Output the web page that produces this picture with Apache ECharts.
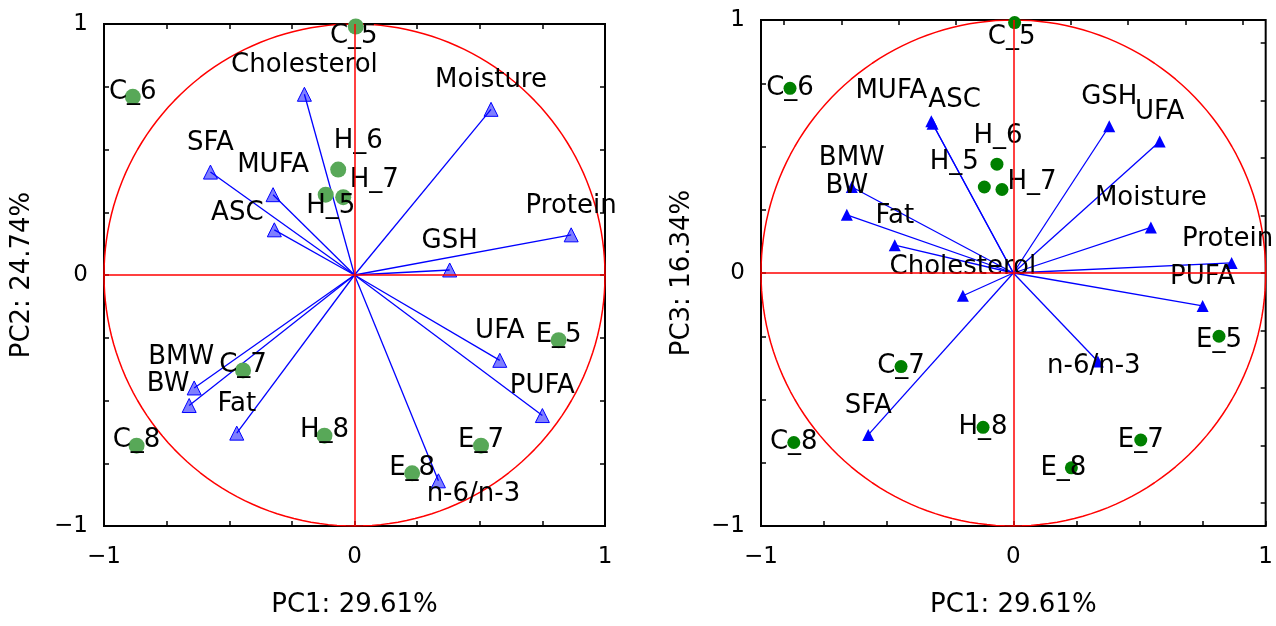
<!DOCTYPE html>
<html>
<head>
<meta charset="utf-8">
<title>PCA correlation circles</title>
<script src="https://cdn.jsdelivr.net/npm/echarts@6/dist/echarts.min.js"></script>
<style>
  html, body { margin: 0; padding: 0; background: #fff; }
  #chart { width: 1276px; height: 626px; }
</style>
</head>
<body>
<div id="chart"></div>
<script>
// loadings of the variables
const varNames = ['Cholesterol', 'SFA', 'MUFA', 'ASC', 'Moisture', 'Protein', 'GSH', 'BMW', 'BW', 'Fat', 'UFA', 'PUFA', 'n-6/n-3']
const varPC1 = [-0.20, -0.575, -0.325, -0.32, 0.545, 0.865, 0.38, -0.64, -0.66, -0.47, 0.58, 0.75, 0.335]
const varPC2 = [0.72, 0.41, 0.32, 0.18, 0.66, 0.16, 0.02, -0.45, -0.52, -0.63, -0.34, -0.56, -0.82]
const varPC3 = [-0.09, -0.64, 0.60, 0.59, 0.18, 0.04, 0.58, 0.34, 0.23, 0.11, 0.52, -0.13, -0.35]

// scores of the samples
const obsNames = ['C_5', 'C_6', 'C_7', 'C_8', 'H_5', 'H_6', 'H_7', 'H_8', 'E_5', 'E_7', 'E_8']
const obsPC1 = [0.005, -0.885, -0.445, -0.87, -0.115, -0.065, -0.045, -0.12, 0.815, 0.505, 0.23]
const obsPC2 = [0.99, 0.71, -0.38, -0.68, 0.32, 0.42, 0.31, -0.64, -0.26, -0.68, -0.79]
const obsPC3 = [0.99, 0.73, -0.37, -0.67, 0.34, 0.43, 0.33, -0.61, -0.25, -0.66, -0.77]

const tickValues = [-1, -0.75, -0.5, -0.25, 0, 0.25, 0.5, 0.75, 1]
const labelValues = [-1, 0, 1]

// label nudges in px, where the original pushed labels apart
const varShiftL = { ASC: [-37, -17], BMW: [-13, -31], BW: [-21, -21], 'n-6/n-3': [35, 13] }
const obsShiftL = { C_5: [-2, 10], H_6: [20, -28], H_5: [5, 12], H_7: [31, -17] }
const varShiftR = { MUFA: [-40, -30], ASC: [22, -23], 'n-6/n-3': [-4, 5], Protein: [-4, -24] }
const obsShiftR = { C_5: [-3, 15], H_6: [1, -28], H_5: [-30, -25], H_7: [30, -7], E_5: [0, 4], E_8: [-8, 0] }

const FONT = 'DejaVu Sans'

// unit correlation circle
const circle = []
for (let a = 0; a <= 360; a += 2) {
  circle.push([Math.cos(a * Math.PI / 180), Math.sin(a * Math.PI / 180)])
}

const fmt = v => v < 0 ? '\u22121' : String(v)

const tickStyle = { inside: true, length: 5, customValues: tickValues, lineStyle: { color: '#000', width: 1.5 } }
const noLine = { show: false, onZero: false }

const xAxes = (g, name, ext) => [
  {
    gridIndex: g, type: 'value', min: -1, max: 1, position: 'bottom',
    name: name, nameLocation: 'middle', nameGap: 66,
    nameTextStyle: { fontFamily: FONT, fontSize: 26, color: '#000' },
    axisLine: noLine, splitLine: { show: false },
    axisTick: tickStyle,
    axisLabel: { customValues: labelValues, formatter: fmt, fontFamily: FONT, fontSize: 23, color: '#000', margin: 20 }
  },
  {
    gridIndex: g, type: 'value', min: -ext, max: ext, position: 'top',
    axisLine: noLine, splitLine: { show: false },
    axisTick: tickStyle, axisLabel: { show: false }
  }
]

const yAxes = (g, name, ext, gap) => [
  {
    gridIndex: g, type: 'value', min: -1, max: 1, position: 'left',
    name: name, nameLocation: 'middle', nameGap: gap,
    nameTextStyle: { fontFamily: FONT, fontSize: 26, color: '#000' },
    axisLine: noLine, splitLine: { show: false },
    axisTick: tickStyle,
    axisLabel: { customValues: labelValues, formatter: fmt, fontFamily: FONT, fontSize: 23, color: '#000', margin: 16 }
  },
  {
    gridIndex: g, type: 'value', min: -ext, max: ext, position: 'right',
    axisLine: noLine, splitLine: { show: false },
    axisTick: tickStyle, axisLabel: { show: false }
  }
]

const plotSeries = (p, varY, obsY, varShift, obsShift, obsOff, triStyle, triSize, dotStyle, dotSize) => {
  const ax = { xAxisIndex: 2 * p, yAxisIndex: 2 * p }
  const lbl = {
    show: true, position: 'inside', formatter: '{b}', fontFamily: FONT, fontSize: 26,
    color: '#000', textBorderWidth: 0
  }
  return [
    Object.assign({
      type: 'line', data: circle, showSymbol: false, silent: true, z: 1,
      lineStyle: { color: '#ff0000', width: 1.5 },
      markLine: {
        silent: true, symbol: ['none', 'none'], label: { show: false },
        lineStyle: { color: '#ff0000', width: 1.5, type: 'solid' },
        data: [{ xAxis: 0 }, { yAxis: 0 }]
      }
    }, ax),
    Object.assign({
      type: 'lines', coordinateSystem: 'cartesian2d', silent: true, z: 2,
      lineStyle: { color: '#0000ff', width: 1.3, opacity: 1 },
      data: varNames.map((n, i) => ({ coords: [[0, 0], [varPC1[i], varY[i]]] }))
    }, ax),
    Object.assign({
      type: 'scatter', symbol: 'triangle', symbolSize: triSize, z: 3,
      itemStyle: triStyle, label: lbl,
      data: varNames.map((n, i) => ({
        name: n, value: [varPC1[i], varY[i]],
        label: { offset: varShift[n] || [0, -29] }
      }))
    }, ax),
    Object.assign({
      type: 'scatter', symbol: 'circle', symbolSize: dotSize, z: 4,
      itemStyle: dotStyle, label: lbl,
      data: obsNames.map((n, i) => ({
        name: n, value: [obsPC1[i], obsY[i]],
        label: { offset: obsShift[n] || obsOff }
      }))
    }, ax)
  ]
}

const chart = echarts.init(document.getElementById('chart'))
chart.setOption({
  animation: false,
  backgroundColor: '#fff',
  grid: [
    { left: 104, top: 24, width: 501, height: 502, show: true, borderColor: '#000', borderWidth: 2, backgroundColor: 'transparent' },
    { left: 761, top: 20, width: 506, height: 506, show: true, borderColor: '#000', borderWidth: 2, backgroundColor: 'transparent' }
  ],
  xAxis: [].concat(xAxes(0, 'PC1: 29.61%', 1), xAxes(1, 'PC1: 29.61%', 1.1)),
  yAxis: [].concat(yAxes(0, 'PC2: 24.74%', 1, 69), yAxes(1, 'PC3: 16.34%', 1.1, 66)),
  series: [].concat(
    plotSeries(0, varPC2, obsPC2, varShiftL, obsShiftL, [0, -5],
      { color: 'rgba(0,0,255,0.5)', borderColor: '#0000ff', borderWidth: 1, opacity: 1 }, 14,
      { color: '#58a858', opacity: 1 }, 16),
    plotSeries(1, varPC3, obsPC3, varShiftR, obsShiftR, [0, 0],
      { color: '#0000ff', opacity: 1 }, 12,
      { color: '#008000', opacity: 1 }, 13)
  )
})
</script>
</body>
</html>
